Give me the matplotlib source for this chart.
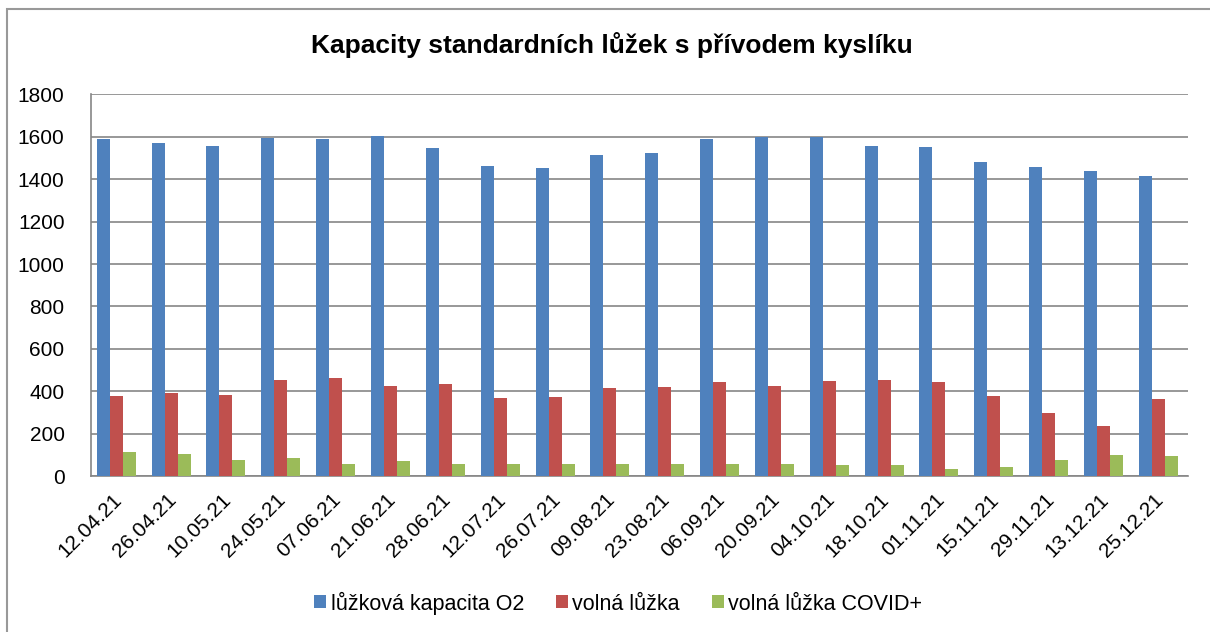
import numpy as np
import matplotlib
matplotlib.use('Agg')
import matplotlib.pyplot as plt
from matplotlib.patches import Rectangle

plt.rcParams['font.family'] = ['Liberation Sans', 'DejaVu Sans']

# data
dates = ['12.04.21', '26.04.21', '10.05.21', '24.05.21', '07.06.21', '21.06.21', '28.06.21',
         '12.07.21', '26.07.21', '09.08.21', '23.08.21', '06.09.21', '20.09.21', '04.10.21',
         '18.10.21', '01.11.21', '15.11.21', '29.11.21', '13.12.21', '25.12.21']
kapacita_o2 = [1590, 1573, 1559, 1597, 1591, 1606, 1546, 1461, 1452, 1515,
               1523, 1592, 1601, 1600, 1557, 1551, 1480, 1457, 1438, 1417]
volna_luzka = [379, 390, 382, 455, 464, 423, 436, 367, 373, 417,
               420, 442, 423, 447, 451, 442, 376, 297, 238, 365]
volna_covid = [113, 102, 74, 83, 58, 71, 58, 58, 58, 58,
               58, 55, 58, 50, 50, 31, 41, 75, 98, 93]

series_names = ['lůžková kapacita O2', 'volná lůžka', 'volná lůžka COVID+']
colors = ['#4F81BD', '#C0504D', '#9BBB59']

fig = plt.figure(figsize=(12.1, 6.32), dpi=100)
ax = fig.add_axes([0.0752, 0.2468, 0.9066, 0.6037])

x = np.arange(len(dates))
w = 0.237
for offset, vals, name, col in zip([-w, 0, w], [kapacita_o2, volna_luzka, volna_covid],
                                   series_names, colors):
    ax.bar(x + offset - 0.04, vals, width=w, color=col, label=name, zorder=3)

ax.set_xlim(-0.5, len(dates) - 0.5)
ax.set_ylim(0, 1800)
ax.set_yticks(range(0, 1801, 200))
ax.grid(axis='y', color='#868686', linewidth=1.2, zorder=0)

ax.set_xticks(x)
ax.set_xticklabels(dates, rotation=45, ha='right', va='center', rotation_mode='anchor')
ax.tick_params(axis='both', length=0, labelsize=15, colors='black')
ax.tick_params(axis='x', pad=15)
ax.tick_params(axis='y', pad=19)

for side in ['top', 'right']:
    ax.spines[side].set_visible(False)
for side in ['left', 'bottom']:
    ax.spines[side].set_color('#868686')
    ax.spines[side].set_linewidth(1.2)

fig.text(0.506, 1 - 45 / 632, 'Kapacity standardních lůžek s přívodem kyslíku',
         ha='center', va='center', fontsize=19, fontweight='bold')

fig.legend(loc='center', bbox_to_anchor=(0.511, 1 - 603 / 632), ncol=3, frameon=False,
           fontsize=15.5, handlelength=0.55, handleheight=0.55, handletextpad=0.2,
           columnspacing=1.5)

# outer chart frame
fig.patches.append(Rectangle((7 / 1210, -0.1), 1.2, 1 - 9 / 632 + 0.1, transform=fig.transFigure,
                             fill=False, edgecolor='#999999', linewidth=1.5))

fig.savefig('out.png', dpi=100)
